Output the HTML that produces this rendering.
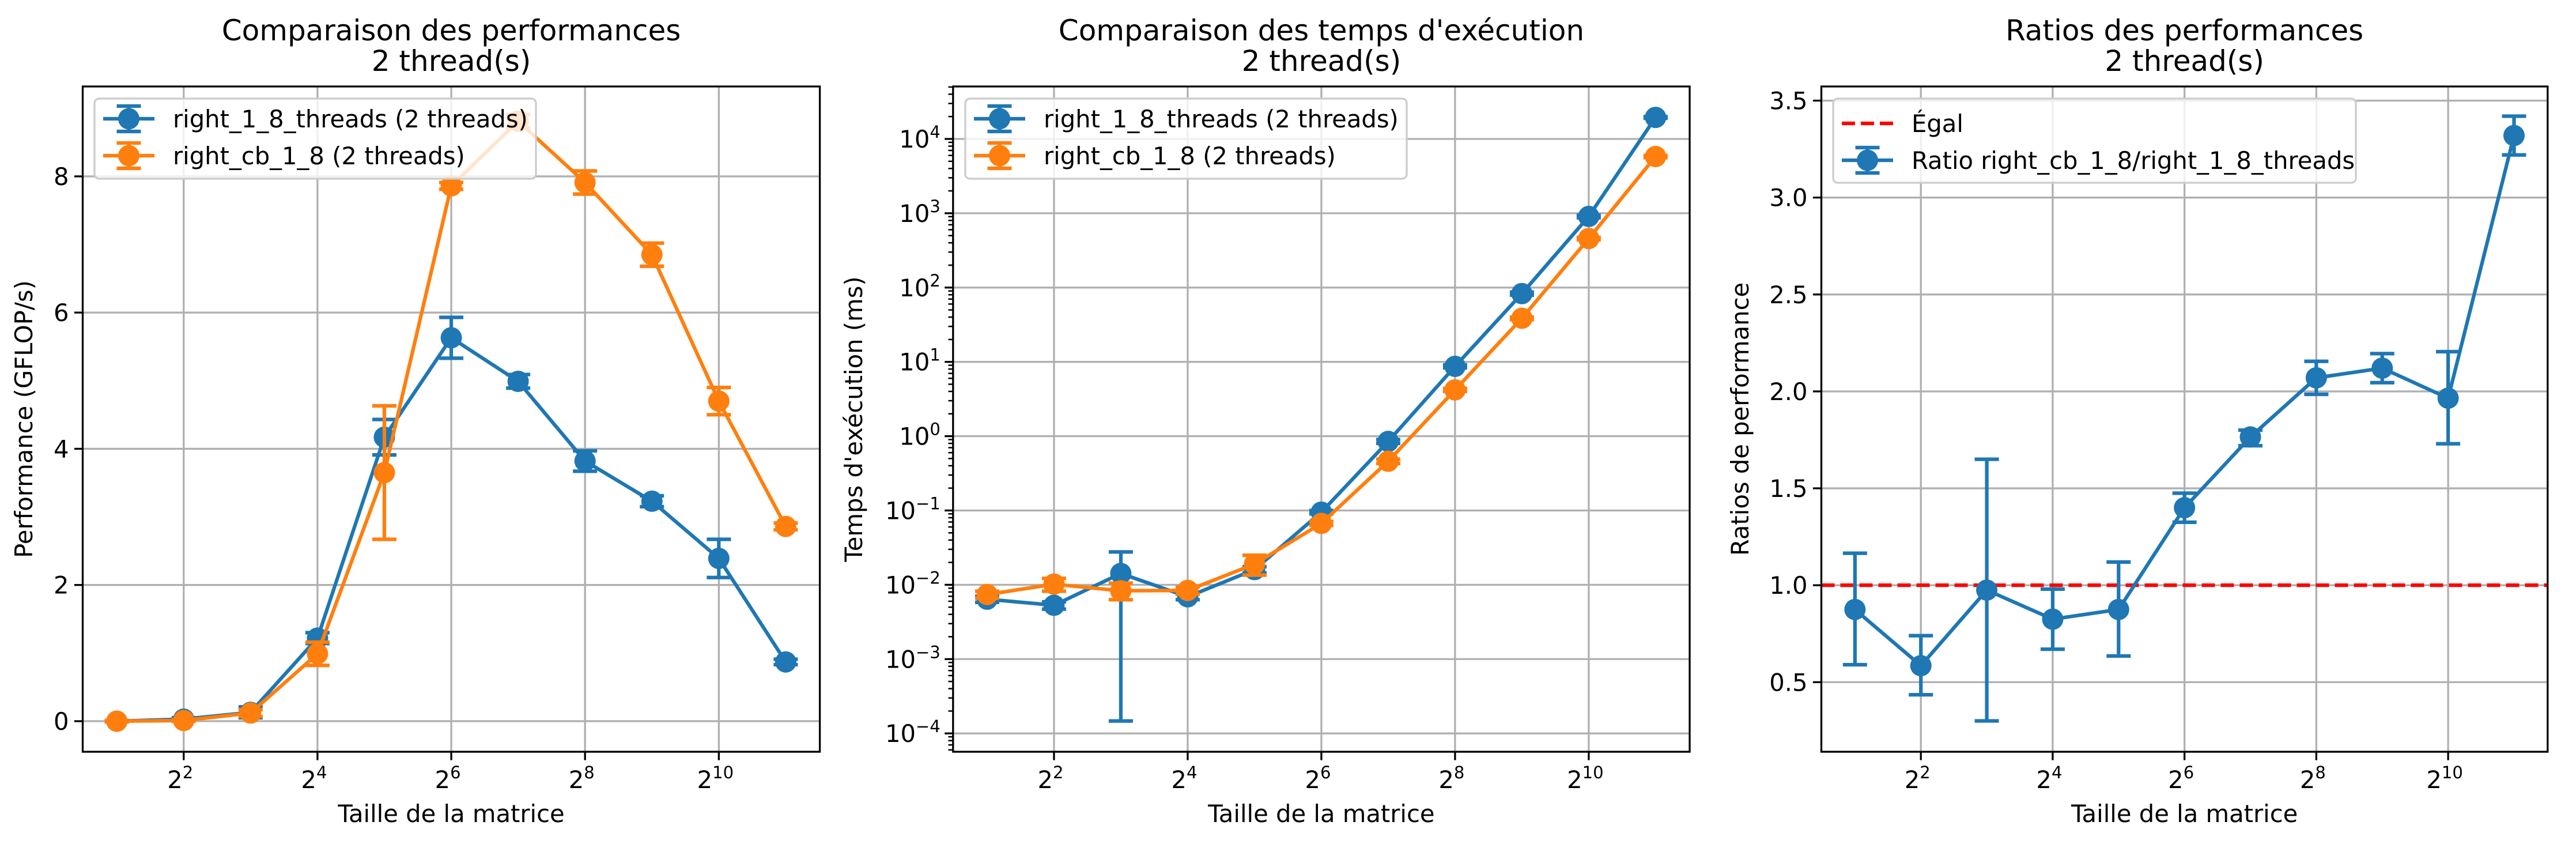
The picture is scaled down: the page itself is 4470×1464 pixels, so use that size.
<!DOCTYPE html>
<html><head><meta charset="utf-8"><style>
html,body{margin:0;padding:0;background:#fff}
svg{display:block;font-family:"DejaVu Sans","Liberation Sans",sans-serif}
</style></head><body>
<svg id="fig" width="4470" height="1464" viewBox="0 0 4470 1464" xmlns="http://www.w3.org/2000/svg"></svg>
<script>
const exps = [1,2,3,4,5,6,7,8,9,10,11];
// Chart 1: performance GFLOP/s
const perfBlue = [0.0,0.03,0.13,1.22,4.17,5.63,4.99,3.82,3.23,2.39,0.87];
const perfBlueErr = [0.01,0.02,0.08,0.08,0.26,0.30,0.10,0.15,0.08,0.28,0.04];
const perfOrange = [0.0,0.01,0.12,0.99,3.65,7.86,8.81,7.91,6.85,4.70,2.86];
const perfOrangeErr = [0.01,0.01,0.05,0.17,0.98,0.05,0.10,0.17,0.17,0.20,0.05];
const perfTicks = [0,2,4,6,8];
// Chart 2: time ms (log)
const timeBlue = [0.0064,0.0053,0.0142,0.0069,0.016,0.095,0.85,8.7,83,906,19500];
const timeBlueLo = [0.0058,0.0047,0.000147,0.0063,0.0145,0.09,0.8,8.3,79,870,19000];
const timeBlueHi = [0.0070,0.0059,0.0277,0.0075,0.0175,0.10,0.9,9.1,87,940,20000];
const timeOrange = [0.0074,0.0102,0.0083,0.0084,0.019,0.067,0.46,4.2,38.6,457,5800];
const timeOrangeLo = [0.0066,0.0082,0.0063,0.0075,0.0135,0.063,0.43,4.0,37,440,5600];
const timeOrangeHi = [0.0082,0.0122,0.0105,0.0093,0.025,0.071,0.49,4.4,40,475,6000];
const timeTicks = [-4,-3,-2,-1,0,1,2,3,4];
// Chart 3: ratios
const ratio = [0.875,0.585,0.975,0.825,0.875,1.40,1.765,2.07,2.12,1.965,3.32];
const ratioLo = [0.59,0.435,0.30,0.67,0.635,1.325,1.72,1.985,2.045,1.73,3.22];
const ratioHi = [1.165,0.74,1.65,0.98,1.12,1.475,1.80,2.155,2.195,2.205,3.42];
const ratioTicks = [0.5,1.0,1.5,2.0,2.5,3.0,3.5];
const xTickExps = [2,4,6,8,10];

const NS="http://www.w3.org/2000/svg";
const svg=document.getElementById('fig');
const BLUE="#1f77b4", ORANGE="#ff7f0e";
function mk(tag,attrs,parent){const e=document.createElementNS(NS,tag);for(const k in attrs)e.setAttribute(k,attrs[k]);(parent||svg).appendChild(e);return e;}
const FS=41.7;

function makeAxes(cfg){
  const g=mk('g',{});
  
  
  const L=cfg.left,R=cfg.right,T=150,B=1304;
  const sx=e=>L+(e-0.49)/(11.51-0.49)*(R-L);
  const sy=v=>B-(cfg.ty(v)-cfg.y0)/(cfg.y1-cfg.y0)*(B-T);
  const clip='clip'+cfg.name;
  const cp=mk('clipPath',{id:clip},g);mk('rect',{x:L-30,y:T-30,width:R-L+60,height:B-T+60},cp);
  const grid=mk('g',{stroke:'#b0b0b0','stroke-width':3.3},g);
  
  
  xTickExps.forEach(e=>mk('line',{x1:sx(e),x2:sx(e),y1:T,y2:B},grid));
  cfg.yticks.forEach(t=>mk('line',{x1:L,x2:R,y1:sy(cfg.tickVal(t)),y2:sy(cfg.tickVal(t))},grid));
  xTickExps.forEach(e=>{
    mk('line',{x1:sx(e),x2:sx(e),y1:B,y2:B+14.6,stroke:'#000','stroke-width':3.3},g);
    const t=mk('text',{x:sx(e)-6,y:1367,'font-size':FS,'text-anchor':'middle'},g);
    
    
    t.textContent='2';
    const s=mk('tspan',{'font-size':29,dy:-17},t);s.textContent=String(e);
  });
  cfg.yticks.forEach(tk=>{
    const y=sy(cfg.tickVal(tk));
    mk('line',{x1:L-14.6,x2:L,y1:y,y2:y,stroke:'#000','stroke-width':3.3},g);
    const t=mk('text',{x:L-24,y:y+15,'font-size':FS,'text-anchor':'end'},g);
    
    
    if(cfg.log){t.textContent='10';const s=mk('tspan',{'font-size':29,dy:-17},t);s.textContent=(tk<0?'\u2212'+(-tk):String(tk));t.setAttribute('x',L-22);}
    else t.textContent=cfg.fmt(tk);
  });
  if(cfg.log){
    for(let d=-5;d<=4;d++)for(let m=2;m<=9;m++){
      const v=Math.pow(10,d)*m;const y=sy(v);if(y<T||y>B)continue;
      mk('line',{x1:L-8.3,x2:L,y1:y,y2:y,stroke:'#000','stroke-width':2.5},g);
    }
  }
  if(cfg.ref!==undefined){
    const l=mk('line',{x1:L,x2:R,y1:sy(cfg.ref),y2:sy(cfg.ref),stroke:'#ff0000','stroke-width':6.25,'stroke-dasharray':'23 10'},g);
    
    
  }
  cfg.series.forEach(s=>{
    const sg=mk('g',{'clip-path':'url(#'+clip+')'},g);
    
    
    s.vals.forEach((v,i)=>{
      const x=sx(exps[i]),y1=sy(s.lo[i]),y2=sy(s.hi[i]);
      mk('line',{x1:x,x2:x,y1:y1,y2:y2,stroke:s.color,'stroke-width':6.25},sg);
      mk('line',{x1:x-21,x2:x+21,y1:y1,y2:y1,stroke:s.color,'stroke-width':6.25},sg);
      mk('line',{x1:x-21,x2:x+21,y1:y2,y2:y2,stroke:s.color,'stroke-width':6.25},sg);
    });
    mk('polyline',{points:s.vals.map((v,i)=>sx(exps[i])+','+sy(v)).join(' '),fill:'none',stroke:s.color,'stroke-width':6.25,'stroke-linejoin':'round'},sg);
    s.vals.forEach((v,i)=>{
      const c=mk('circle',{cx:sx(exps[i]),cy:sy(v),r:18.5,fill:s.color},sg);
      
      
    });
  });
  mk('rect',{x:L,y:T,width:R-L,height:B-T,fill:'none',stroke:'#000','stroke-width':3.3},g);
  const tt=mk('text',{x:(L+R)/2,y:70,'font-size':50,'text-anchor':'middle'},g);
  
  
  tt.textContent=cfg.title;
  const t2=mk('text',{x:(L+R)/2,y:123,'font-size':50,'text-anchor':'middle'},g);
  
  
  t2.textContent='2 thread(s)';
  const xl=mk('text',{x:(L+R)/2,y:1426,'font-size':FS,'text-anchor':'middle'},g);
  
  
  xl.textContent='Taille de la matrice';
  const yl=mk('text',{x:0,y:0,'font-size':FS,'text-anchor':'middle',transform:'translate('+cfg.ylx+','+((T+B)/2)+') rotate(-90)'},g);
  
  
  yl.textContent=cfg.ylabel;
  const lg=mk('g',{},g);
  
  
  const lx=cfg.legend.x, ly=171;
  mk('rect',{x:lx,y:ly,width:cfg.legend.w,height:cfg.legend.h,rx:8,fill:'#fff','fill-opacity':0.8,stroke:'#cccccc','stroke-width':3.3},lg);
  cfg.legend.items.forEach((it,k)=>{
    const cy=ly+cfg.legend.first+k*64;
    const eg=mk('g',{},lg);
    
    
    const hx=lx+15,hx2=hx+89,mx=(hx+hx2)/2;
    if(it.dash){mk('line',{x1:hx,x2:hx2,y1:cy,y2:cy,stroke:'#ff0000','stroke-width':6.25,'stroke-dasharray':'23 10'},eg);}
    else{
      mk('line',{x1:hx,x2:hx2,y1:cy,y2:cy,stroke:it.color,'stroke-width':6.25},eg);
      mk('line',{x1:mx,x2:mx,y1:cy-22,y2:cy+22,stroke:it.color,'stroke-width':6.25},eg);
      mk('line',{x1:mx-21,x2:mx+21,y1:cy-22,y2:cy-22,stroke:it.color,'stroke-width':6.25},eg);
      mk('line',{x1:mx-21,x2:mx+21,y1:cy+22,y2:cy+22,stroke:it.color,'stroke-width':6.25},eg);
      mk('circle',{cx:mx,cy:cy,r:18.5,fill:it.color},eg);
    }
    const t=mk('text',{x:hx2+32,y:cy+15,'font-size':FS},eg);
    t.textContent=it.label;
  });
}

const pm=(v,e,s)=>v.map((x,i)=>x+s*e[i]);
makeAxes({name:'performance-chart',left:143.5,right:1422.6,y0:-0.449,y1:9.32,ty:v=>v,tickVal:t=>t,yticks:perfTicks,fmt:t=>String(t),
  title:'Comparaison des performances',ylabel:'Performance (GFLOP/s)',ylx:56,
  series:[{name:'series-right-1-8-threads',color:BLUE,vals:perfBlue,lo:pm(perfBlue,perfBlueErr,-1),hi:pm(perfBlue,perfBlueErr,1)},
          {name:'series-right-cb-1-8',color:ORANGE,vals:perfOrange,lo:pm(perfOrange,perfOrangeErr,-1),hi:pm(perfOrange,perfOrangeErr,1)}],
  legend:{x:164,w:766,h:139,first:35,items:[{color:BLUE,label:'right_1_8_threads (2 threads)'},{color:ORANGE,label:'right_cb_1_8 (2 threads)'}]}});
makeAxes({name:'execution-time-chart',left:1653.8,right:2932,y0:-4.247,y1:4.706,ty:v=>Math.log10(v),tickVal:t=>Math.pow(10,t),yticks:timeTicks,log:true,
  title:"Comparaison des temps d'exécution",ylabel:"Temps d'exécution (ms)",ylx:1496,
  series:[{name:'series-right-1-8-threads',color:BLUE,vals:timeBlue,lo:timeBlueLo,hi:timeBlueHi},
          {name:'series-right-cb-1-8',color:ORANGE,vals:timeOrange,lo:timeOrangeLo,hi:timeOrangeHi}],
  legend:{x:1675,w:766,h:139,first:35,items:[{color:BLUE,label:'right_1_8_threads (2 threads)'},{color:ORANGE,label:'right_cb_1_8 (2 threads)'}]}});
makeAxes({name:'ratio-chart',left:3160.5,right:4420.8,y0:0.141,y1:3.573,ty:v=>v,tickVal:t=>t,yticks:ratioTicks,fmt:t=>t.toFixed(1),ref:1.0,
  title:'Ratios des performances',ylabel:'Ratios de performance',ylx:3034,
  series:[{name:'series-ratio',color:BLUE,vals:ratio,lo:ratioLo,hi:ratioHi}],
  legend:{x:3181,w:907,h:146,first:43,items:[{dash:true,label:'Égal'},{color:BLUE,label:'Ratio right_cb_1_8/right_1_8_threads'}]}});
</script>
</body></html>
